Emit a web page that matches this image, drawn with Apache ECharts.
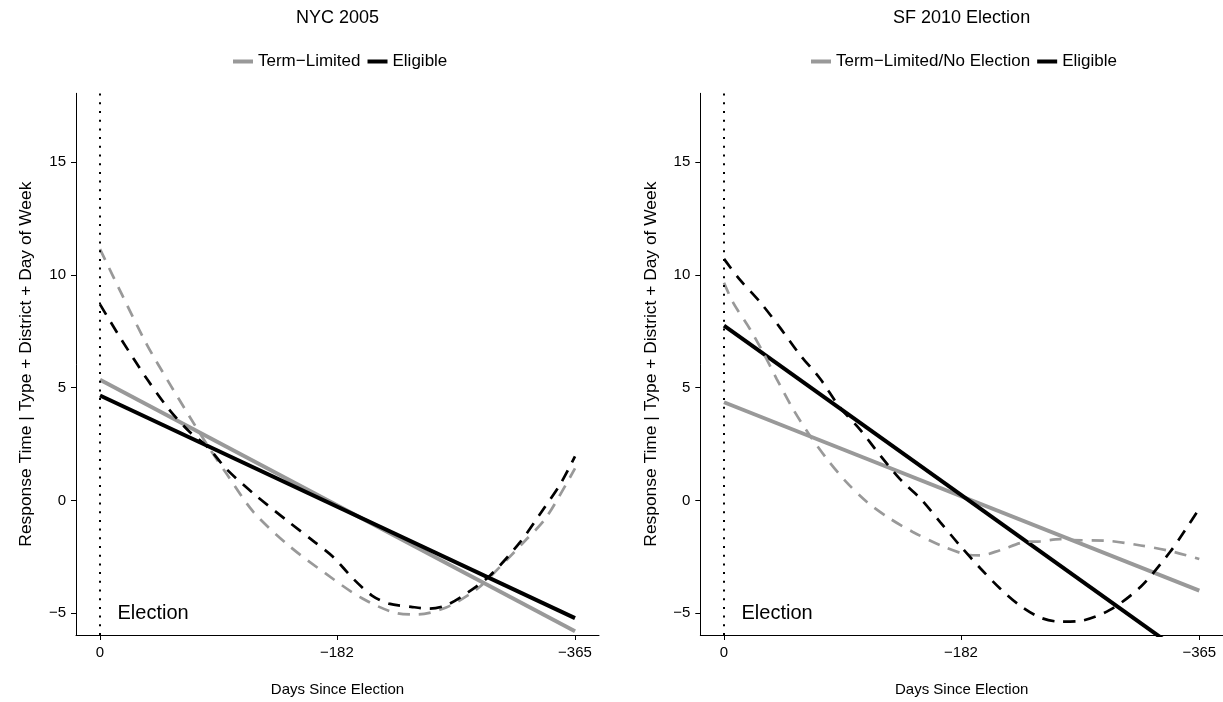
<!DOCTYPE html>
<html>
<head>
<meta charset="utf-8">
<script src="https://cdn.jsdelivr.net/npm/echarts@6/dist/echarts.min.js"></script>
<style>
html,body{margin:0;padding:0;background:#fff;}
#chart{width:1223px;height:702px;}
</style>
</head>
<body>
<div id="chart"></div>
<script>
// ---------- data ----------
const panelTitles = ['NYC 2005', 'SF 2010 Election'];
const xTickValues = [0, -182, -365];
const yTickValues = [-5, 0, 5, 10, 15];
const electionAt = [0, -5];

// linear fits (solid)
const fitDays = [0, -365];
const nycTermLimitedFit = [5.35, -5.8];
const nycEligibleFit = [4.65, -5.22];
const sfTermLimitedFit = [4.35, -4.0];
const sfEligibleFit = [7.75, -7.3];

// smoothed curves (dashed)
const nycTermDays = [0, -17, -36, -53, -69, -83, -97, -118, -146, -173, -201, -228, -244, -266, -287, -296, -327, -343, -365];
const nycTermSmooth = [11.14, 9.11, 6.91, 5.22, 3.70, 2.40, 1.20, -0.52, -2.05, -3.23, -4.33, -5.0, -5.06, -4.75, -4.05, -3.61, -1.77, -0.75, 1.42];
const nycEligDays = [0, -17, -36, -53, -69, -83, -97, -118, -146, -165, -179, -195, -209, -222, -239, -253, -266, -283, -300, -323, -340, -354, -365];
const nycEligSmooth = [8.69, 7.08, 5.39, 4.04, 3.03, 2.35, 1.40, 0.30, -1.00, -1.85, -2.50, -3.50, -4.22, -4.58, -4.72, -4.8, -4.65, -4.07, -3.32, -1.84, -0.45, 0.75, 1.95];

const sfTermDays = [0, -7, -20, -30, -40.5, -53, -66, -79, -94, -110, -127.5, -145, -166, -186, -197, -212, -232, -243, -258, -267, -294, -320, -343, -365];
const sfTermSmooth = [9.65, 8.77, 7.59, 6.56, 5.38, 4.05, 2.87, 1.84, 0.81, -0.08, -0.81, -1.40, -1.99, -2.40, -2.44, -2.21, -1.84, -1.82, -1.72, -1.76, -1.79, -2.0, -2.25, -2.6];
const sfEligDays = [0, -12, -28, -43, -58, -74, -89, -104, -120, -135, -151, -166, -181, -197, -212, -227, -243, -258, -273, -296, -320, -342.5, -354, -365];
const sfEligSmooth = [10.71, 9.80, 8.77, 7.66, 6.48, 5.38, 4.12, 3.17, 1.99, 0.95, 0.07, -0.96, -1.99, -3.02, -3.91, -4.65, -5.2, -5.38, -5.35, -4.87, -3.83, -2.29, -1.33, -0.36];

// ---------- styling ----------
const GRAY = '#999999';
const BLACK = '#000000';
const FONT = 'Liberation Sans, Arial, Helvetica, sans-serif';
const fmt = v => String(v).replace('-', '\u2212');
const pairs = (xs, ys) => xs.map((x, i) => [x, ys[i]]);

const grids = [
  {left: 76, top: 93.3, width: 523, height: 543.4},
  {left: 700.3, top: 93.3, width: 522.7, height: 543.4}
];
const xRanges = [[-383.44, 18.44], [-383.2, 18.2]];

function xAxisFor(i) {
  return {
    type: 'value', gridIndex: i, min: xRanges[i][0], max: xRanges[i][1], inverse: true,
    name: 'Days Since Election', nameLocation: 'middle', nameGap: 47,
    nameTextStyle: {color: BLACK, fontSize: 15, fontFamily: FONT},
    axisLine: {show: true, onZero: false, lineStyle: {color: BLACK, width: 1}},
    axisTick: {show: true, inside: false, length: 5, customValues: xTickValues, lineStyle: {color: BLACK, width: 1}},
    axisLabel: {show: true, customValues: xTickValues, margin: 10, color: BLACK, fontSize: 15, fontFamily: FONT, formatter: fmt},
    splitLine: {show: false}
  };
}
function yAxisFor(i) {
  return {
    type: 'value', gridIndex: i, min: -5.97, max: 18.05,
    name: 'Response Time | Type + District + Day of Week', nameLocation: 'middle', nameGap: 41, nameRotate: 90,
    nameTextStyle: {color: BLACK, fontSize: 17.4, fontFamily: FONT},
    axisLine: {show: true, onZero: false, lineStyle: {color: BLACK, width: 1}},
    axisTick: {show: true, inside: false, length: 5, customValues: yTickValues, lineStyle: {color: BLACK, width: 1}},
    axisLabel: {show: true, customValues: yTickValues, margin: 10, color: BLACK, fontSize: 15, fontFamily: FONT, formatter: fmt},
    splitLine: {show: false}
  };
}

function solid(name, i, ys, color) {
  return {
    name, type: 'line', xAxisIndex: i, yAxisIndex: i, data: pairs(fitDays, ys),
    showSymbol: false, symbol: 'none', clip: true,
    lineStyle: {color, width: 4, type: 'solid', cap: 'butt'}, itemStyle: {color},
    silent: true, z: 2
  };
}
function dashed(name, i, xs, ys, color, z) {
  return {
    name, type: 'line', xAxisIndex: i, yAxisIndex: i, data: pairs(xs, ys),
    showSymbol: false, symbol: 'none', smooth: 0.3, clip: true,
    lineStyle: {color, width: 2.7, type: [12, 9], cap: 'butt'}, itemStyle: {color},
    silent: true, z
  };
}
function electionSeries(i) {
  return {
    name: 'election' + i, type: 'scatter', xAxisIndex: i, yAxisIndex: i,
    data: [electionAt], symbolSize: 1, itemStyle: {color: 'rgba(0,0,0,0)'}, silent: true,
    label: {show: true, formatter: 'Election', position: 'right', distance: 17, color: BLACK, opacity: 1, fontSize: 20, fontFamily: FONT},
    markLine: {
      silent: true, symbol: ['none', 'none'], label: {show: false},
      lineStyle: {color: BLACK, width: 2, type: [2, 6.7], cap: 'butt'},
      data: [{xAxis: 0}], animation: false
    },
    z: 1
  };
}

const option = {
  animation: false,
  backgroundColor: '#ffffff',
  textStyle: {fontFamily: FONT},
  title: [
    {text: panelTitles[0], left: 332.5, top: 4, textAlign: 'center', textStyle: {color: BLACK, fontSize: 18, fontWeight: 'normal', fontFamily: FONT}},
    {text: panelTitles[1], left: 956.6, top: 4, textAlign: 'center', textStyle: {color: BLACK, fontSize: 18, fontWeight: 'normal', fontFamily: FONT}}
  ],
  legend: [
    {left: 228, top: 48, data: [{name: 'Term\u2212Limited', icon: 'rect'}, {name: 'Eligible', icon: 'rect'}],
     itemWidth: 20, itemHeight: 4, itemGap: 7, selectedMode: false, textStyle: {color: BLACK, fontSize: 17, fontFamily: FONT}},
    {left: 806, top: 48, data: [{name: 'Term\u2212Limited/No Election', icon: 'rect'}, {name: 'Eligible', icon: 'rect'}],
     itemWidth: 20, itemHeight: 4, itemGap: 7, selectedMode: false, textStyle: {color: BLACK, fontSize: 17, fontFamily: FONT}}
  ],
  grid: grids,
  xAxis: [xAxisFor(0), xAxisFor(1)],
  yAxis: [yAxisFor(0), yAxisFor(1)],
  series: [
    electionSeries(0),
    electionSeries(1),
    solid('Term\u2212Limited', 0, nycTermLimitedFit, GRAY),
    solid('Eligible', 0, nycEligibleFit, BLACK),
    dashed('NYC Term-Limited smooth', 0, nycTermDays, nycTermSmooth, GRAY, 3),
    dashed('NYC Eligible smooth', 0, nycEligDays, nycEligSmooth, BLACK, 4),
    solid('Term\u2212Limited/No Election', 1, sfTermLimitedFit, GRAY),
    solid('Eligible', 1, sfEligibleFit, BLACK),
    dashed('SF Term-Limited smooth', 1, sfTermDays, sfTermSmooth, GRAY, 3),
    dashed('SF Eligible smooth', 1, sfEligDays, sfEligSmooth, BLACK, 4)
  ]
};

const chart = echarts.init(document.getElementById('chart'), null, {renderer: 'canvas'});
chart.setOption(option);
</script>
</body>
</html>
